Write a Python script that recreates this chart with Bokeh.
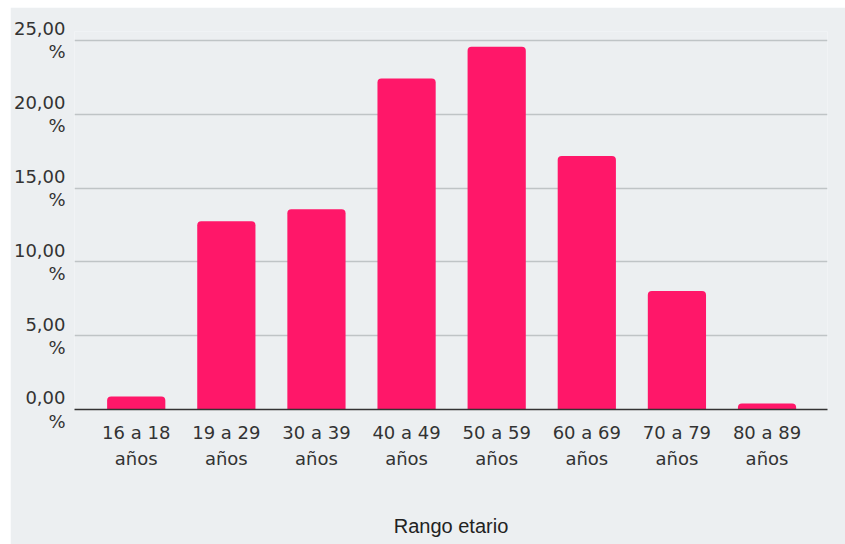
from bokeh.plotting import figure
from bokeh.models import Range1d, FixedTicker
from bokeh.embed import file_html
from bokeh.resources import INLINE

# Distribution by age group (percent)
categories = ["16 a 18 años", "19 a 29 años", "30 a 39 años", "40 a 49 años",
              "50 a 59 años", "60 a 69 años", "70 a 79 años", "80 a 89 años"]
percentages = [0.88, 12.75, 13.56, 22.42, 24.56, 17.17, 8.02, 0.41]
y_ticks = [0, 5, 10, 15, 20, 25]
y_tick_labels = ["0,00\n%", "5,00\n%", "10,00\n%", "15,00\n%", "20,00\n%", "25,00\n%"]

BG = "#eceff1"
BAR = "#ff1769"
TEXT = "#333333"

x_pos = list(range(len(categories)))

p = figure(
    width=835, height=537,
    x_range=Range1d(-0.685, 7.671),
    y_range=Range1d(0, 25.6),
    output_backend="svg",
    toolbar_location=None,
    min_border_left=63, min_border_right=18,
    min_border_top=24, min_border_bottom=135,
)
p.margin = (7, 0, 0, 10)
p.background_fill_color = BG
p.border_fill_color = BG
p.outline_line_color = None

p.vbar(x=x_pos, top=percentages, width=0.646, bottom=0,
       fill_color=BAR, line_color=None, border_radius=(4, 4, 0, 0))

# x axis: category labels on two lines
p.xaxis.ticker = FixedTicker(ticks=x_pos)
p.xaxis.major_label_overrides = {i: c.replace(" años", "\naños") for i, c in enumerate(categories)}
p.xaxis.major_label_text_font = "DejaVu Sans"
p.xaxis.major_label_text_font_size = "18px"
p.xaxis.major_label_text_color = TEXT
p.xaxis.major_label_text_line_height = 1.25
p.xaxis.major_label_standoff = 6
p.xaxis.major_tick_line_color = None
p.xaxis.minor_tick_line_color = None
p.xaxis.axis_line_color = "#333333"
p.xaxis.axis_line_width = 1.5
p.xaxis.axis_label = "Rango etario"
p.xaxis.axis_label_text_font = "Liberation Sans"
p.xaxis.axis_label_text_font_size = "20px"
p.xaxis.axis_label_text_font_style = "normal"
p.xaxis.axis_label_text_color = "#222222"
p.xaxis.axis_label_standoff = 43

# y axis: two-line percentage labels
p.yaxis.ticker = FixedTicker(ticks=y_ticks)
p.yaxis.major_label_overrides = dict(zip(y_ticks, y_tick_labels))
p.yaxis.major_label_text_font = "DejaVu Sans"
p.yaxis.major_label_text_font_size = "18px"
p.yaxis.major_label_text_color = TEXT
p.yaxis.major_label_text_line_height = 1.1
p.yaxis.major_label_standoff = 3
p.yaxis.major_tick_line_color = None
p.yaxis.minor_tick_line_color = None
p.yaxis.axis_line_color = None

p.xgrid.grid_line_color = None
p.ygrid.grid_line_color = "#bfc4c6"
p.ygrid.grid_line_width = 1.5

open("out.html", "w").write(file_html(p, INLINE))
